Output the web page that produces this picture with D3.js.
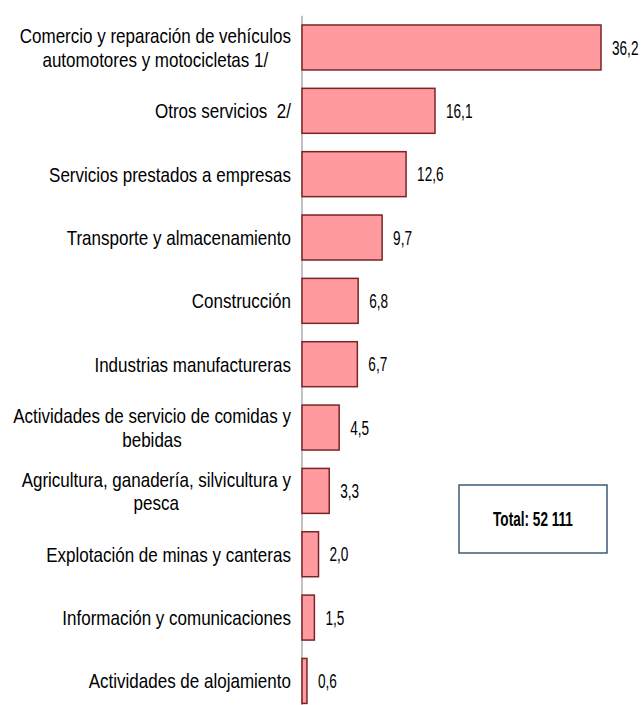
<!DOCTYPE html>
<html><head><meta charset="utf-8">
<script src="https://cdn.jsdelivr.net/npm/d3@7"></script>
<style>
body{margin:0;background:#fff;}
text{font-family:"Liberation Sans Narrow","Arial Narrow","Liberation Sans",Arial,sans-serif;fill:#000;white-space:pre;}
</style></head>
<body><svg id="c" width="641" height="705"></svg>
<script>
const categories = [
  ["Comercio y reparación de vehículos","automotores y motocicletas 1/"],
  ["Otros servicios  2/"],
  ["Servicios prestados a empresas"],
  ["Transporte y almacenamiento"],
  ["Construcción"],
  ["Industrias manufactureras"],
  ["Actividades de servicio de comidas y","bebidas"],
  ["Agricultura, ganadería, silvicultura y","pesca"],
  ["Explotación de minas y canteras"],
  ["Información y comunicaciones"],
  ["Actividades de alojamiento"]
];
const values = [36.2,16.1,12.6,9.7,6.8,6.7,4.5,3.3,2.0,1.5,0.6];
const valueLabels = ["36,2","16,1","12,6","9,7","6,8","6,7","4,5","3,3","2,0","1,5","0,6"];
const totalLabel = "Total: 52 111";

const svg = d3.select("#c");
const x = d3.scaleLinear().domain([0,36.2]).range([302,601]);
const y = d3.scaleBand().domain(d3.range(values.length)).range([15.8,712.6]).paddingInner(0.29).paddingOuter(0.145);

// condensed text helper
function ctext(px, py, str, size, sx, anchor, weight){
  const g = svg.append("g").attr("transform",`translate(${px},${py}) scale(${sx},1)`);
  return g.append("text").attr("font-size",size).attr("dy","0.36em")
    .attr("text-anchor",anchor||"start").attr("font-weight",weight||"normal").text(str);
}

svg.append("line").attr("x1",302).attr("x2",302).attr("y1",15.8).attr("y2",712.6)
  .attr("stroke","#9a9a9a").attr("stroke-width",1.2);

svg.selectAll("rect.bar").data(values).join("rect").attr("class","bar")
  .attr("x",x(0)).attr("y",(d,i)=>y(i))
  .attr("width",d=>x(d)-x(0)).attr("height",y.bandwidth())
  .attr("fill","#FF9B9E").attr("stroke","#7A2428").attr("stroke-width",1.5);

values.forEach((d,i)=>{
  ctext(x(d)+11, y(i)+y.bandwidth()/2, valueLabels[i], 20, 0.68);
});

const lh = 23.5, fsL = 21, sxL = 0.81, right = 291;
categories.forEach((lines,i)=>{
  const cy = y(i)+y.bandwidth()/2;
  const n = lines.length;
  const probe = lines.map(l=>{
    const t = svg.append("text").attr("font-size",fsL).text(l);
    const w = t.node().getComputedTextLength()*sxL; t.remove(); return w;
  });
  const maxW = d3.max(probe);
  lines.forEach((l,k)=>{
    ctext(right-maxW/2, cy+(k-(n-1)/2)*lh, l, fsL, sxL, "middle");
  });
});

svg.append("rect").attr("x",459).attr("y",485).attr("width",148).attr("height",68)
  .attr("fill","#fff").attr("stroke","#3E5878").attr("stroke-width",1.5);
ctext(533, 519, totalLabel, 20, 0.68, "middle", "bold");
</script></body></html>
